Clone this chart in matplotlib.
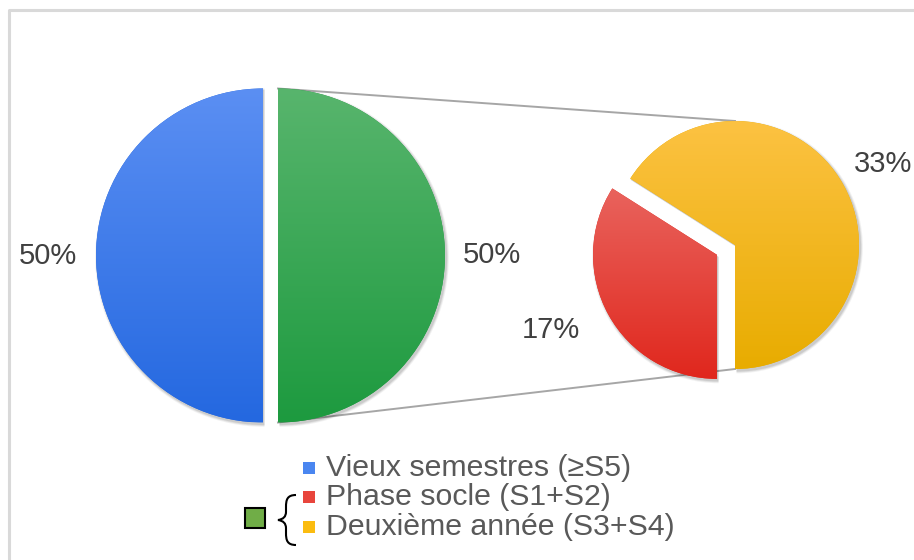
import numpy as np
import matplotlib
matplotlib.use("Agg")
import matplotlib.pyplot as plt
from matplotlib.patches import Wedge, Rectangle, PathPatch
from matplotlib.path import Path
from matplotlib.colors import LinearSegmentedColormap

plt.rcParams['font.family'] = ['Liberation Sans', 'DejaVu Sans']

# ---- data ----
main_labels = ["Vieux semestres (≥S5)", "Autres"]
main_values = [50, 50]
main_pct = ["50%", "50%"]
sub_labels = ["Deuxième année (S3+S4)", "Phase socle (S1+S2)"]
sub_values = [33, 17]
sub_pct = ["33%", "17%"]
legend_labels = ["Vieux semestres (≥S5)", "Phase socle (S1+S2)", "Deuxième année (S3+S4)"]

# gradient colours (bottom, top)
main_grad = [("#2468e0", "#5b8ff3"), ("#1d9a3f", "#58b56d")]
sub_grad = [("#e8ac00", "#fcc242"), ("#e0271d", "#e9635d")]
legend_colors = ["#4a86f0", "#e8453c", "#fbbc10"]

H = 560
fig = plt.figure(figsize=(9.14, 5.60), dpi=100)
ax = fig.add_axes([0, 0, 1, 1])


def grad_fill(wedges, grads):
    for w, (c0, c1) in zip(wedges, grads):
        w.set_facecolor(c0)
        w.set_edgecolor('none')
        w.set_zorder(3)
        ext = w.get_path().get_extents()
        cmap = LinearSegmentedColormap.from_list("g", [c0, c1])
        img = ax.imshow(np.linspace(0, 1, 256).reshape(-1, 1), cmap=cmap,
                        extent=[ext.x0, ext.x1, ext.y0, ext.y1], origin='lower',
                        aspect='auto', zorder=4, interpolation='bilinear')
        img.set_clip_path(w)
        # soft shadow
        for k, a in zip((4, 2.5, 1), (0.05, 0.07, 0.09)):
            sh = Wedge((w.center[0] + 1.5, w.center[1] - 2), w.r + k * 0.6,
                       w.theta1, w.theta2, facecolor='black', alpha=a,
                       edgecolor='none', zorder=2)
            ax.add_patch(sh)


# main pie (explode given in data units, since radius != 1)
r1 = 167
wm, _ = ax.pie(main_values, center=(263, H - 255.5), radius=r1, startangle=90,
               counterclock=True, explode=[0, 15], frame=True)
grad_fill(wm, main_grad)

# secondary pie
r2 = 124
ws, _ = ax.pie(sub_values, center=(735, H - 245), radius=r2, startangle=-90,
               counterclock=True, explode=[0, 20.5], frame=True)
grad_fill(ws, sub_grad)

# percentage labels
def put_labels(wedges, texts, dists, dang):
    for w, t, d, da in zip(wedges, texts, dists, dang):
        ang = np.deg2rad((w.theta1 + w.theta2) / 2 + da)
        x = w.center[0] + d * w.r * np.cos(ang)
        y = w.center[1] + d * w.r * np.sin(ang)
        ax.text(x, y, t, fontsize=21, color='#404040', ha='center', va='center', zorder=6)

put_labels(wm, main_pct, [1.29, 1.28], [0, 0])
put_labels(ws, sub_pct, [1.36, 1.47], [0, -4.5])

# connector lines
g = wm[1]
y_top = ws[0]
ax.plot([g.center[0], y_top.center[0]], [g.center[1] + g.r, y_top.center[1] + y_top.r],
        color='#a6a6a6', lw=1.4, zorder=1)
ax.plot([g.center[0], y_top.center[0]], [g.center[1] - g.r, y_top.center[1] - y_top.r],
        color='#a6a6a6', lw=1.4, zorder=1)

# frame
ax.plot([9, 9, 930], [-10, H - 10, H - 10], color='#d9d9d9', lw=2.2, zorder=0)

# legend
ys = [468, 497, 527]
for lab, col, y in zip(legend_labels, legend_colors, ys):
    ax.add_patch(Rectangle((303, H - y - 6), 12, 12, facecolor=col, edgecolor='none', zorder=5))
    ax.text(326, H - y, lab, fontsize=21.8, color='#595959', ha='left', va='center', zorder=6)

ax.add_patch(Rectangle((245, H - 528), 20, 20, facecolor='#70ad47', edgecolor='black', lw=1.5, zorder=5))
bx = 296
verts = [(bx, H - 495), (287, H - 495), (286, H - 500), (286, H - 507),
         (286, H - 512), (286, H - 519), (278, H - 520),
         (286, H - 521), (286, H - 528), (286, H - 533),
         (286, H - 540), (287, H - 545), (bx, H - 545)]
codes = [Path.MOVETO, Path.CURVE4, Path.CURVE4, Path.CURVE4,
         Path.LINETO, Path.CURVE3, Path.CURVE3,
         Path.CURVE3, Path.CURVE3, Path.LINETO,
         Path.CURVE4, Path.CURVE4, Path.CURVE4]
ax.add_patch(PathPatch(Path(verts, codes), facecolor='none', edgecolor='black', lw=1.5, zorder=5))

ax.set_xlim(0, 914)
ax.set_ylim(0, H)
ax.set_aspect('auto')
ax.axis('off')

fig.savefig("out.png", dpi=100)
